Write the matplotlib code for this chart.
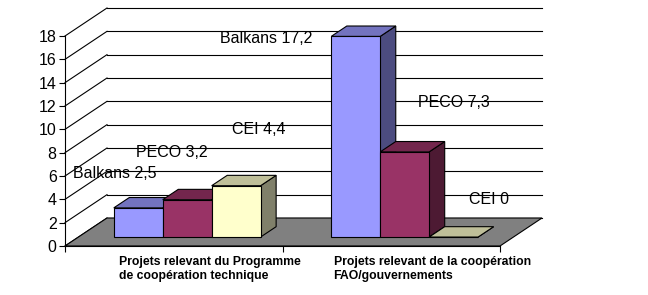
import matplotlib
matplotlib.use('Agg')
from matplotlib import pyplot as plt
from matplotlib.patches import Polygon

plt.rcParams['font.family'] = ['Liberation Sans', 'DejaVu Sans']

categories = ['Projets relevant du Programme\nde coopération technique',
              'Projets relevant de la coopération\nFAO/gouvernements']
series = ['Balkans', 'PECO', 'CEI']
balkans = [2.5, 17.2]
peco = [3.2, 7.3]
cei = [4.4, 0.0]
values = [balkans, peco, cei]

# front / top / side shades for each series
colors = [('#9999FF', '#7373BF', '#4C4C80'),
          ('#993366', '#73264D', '#4D1A33'),
          ('#FFFFCC', '#BFBF99', '#80806A')]

# label anchor positions (x in category units, y in value units)
label_pos = [[(0.037, 6.2), (0.713, 17.8)],
             [(0.326, 8.0), (1.623, 12.3)],
             [(0.768, 9.95), (1.857, 3.95)]]

fig = plt.figure(figsize=(6.48, 2.95), dpi=100)
ax = fig.add_axes([65 / 648, 49 / 295, 435 / 648, 210 / 295])
ax.set_xlim(0, 2)
ax.set_ylim(0, 18)

# depth offsets (full depth) in data units
DX = 42 / 217.5
DY = 28 / (210 / 18)
LW = 0.8


def proj(x, y, d):
    return (x + d * DX, y + d * DY)


# walls
yt = list(range(0, 20, 2))
for v in yt:
    ax.plot([proj(0, v, 0)[0], proj(0, v, 1)[0]], [proj(0, v, 0)[1], proj(0, v, 1)[1]],
            color='black', lw=LW, clip_on=False, zorder=1)
    ax.plot([proj(0, v, 1)[0], proj(2, v, 1)[0]], [proj(0, v, 1)[1], proj(2, v, 1)[1]],
            color='black', lw=LW, clip_on=False, zorder=1)

# floor
floor = [proj(0, 0, 0), proj(2, 0, 0), proj(2, 0, 1), proj(0, 0, 1)]
ax.add_patch(Polygon(floor, closed=True, facecolor='#808080', edgecolor='black',
                     lw=LW, clip_on=False, zorder=2))

# bars
bw = 0.225
df, db = 0.32, 0.69
z = 3
for i in range(len(categories)):
    for s in range(len(series)):
        h = values[s][i]
        x0 = i + 0.5 + (s - 1.5) * bw
        x1 = x0 + bw
        front = [proj(x0, 0, df), proj(x1, 0, df), proj(x1, h, df), proj(x0, h, df)]
        top = [proj(x0, h, df), proj(x1, h, df), proj(x1, h, db), proj(x0, h, db)]
        side = [proj(x1, 0, df), proj(x1, 0, db), proj(x1, h, db), proj(x1, h, df)]
        fc, tc, sc = colors[s]
        for pts, c in [(side, sc), (front, fc), (top, tc)]:
            ax.add_patch(Polygon(pts, closed=True, facecolor=c, edgecolor='black',
                                 lw=LW, joinstyle='miter', clip_on=False, zorder=z))
        z += 1

# data labels
for s in range(len(series)):
    for i in range(len(categories)):
        txt = '%s %s' % (series[s], ('%g' % values[s][i]).replace('.', ','))
        lx, ly = label_pos[s][i]
        ax.text(lx, ly, txt, ha='left', va='center', fontsize=11.5, zorder=20)

# category labels
for i, cat in enumerate(categories):
    ax.text(i + 0.247 - 0.012 * i, -0.85, cat, ha='left', va='top', fontsize=8.8,
            fontweight='bold', linespacing=1.25)

# axes
for sp in ['top', 'right']:
    ax.spines[sp].set_visible(False)
ax.spines['left'].set_linewidth(LW)
ax.spines['bottom'].set_linewidth(LW)
ax.spines['bottom'].set_zorder(30)
ax.set_yticks(yt)
ax.set_yticklabels([str(v) for v in yt], fontsize=11.5)
ax.set_xticks([0, 1, 2])
ax.set_xticklabels(['', '', ''])
ax.tick_params(axis='both', direction='out', length=4, width=LW, pad=2)
ax.patch.set_visible(False)

fig.savefig('out.png', dpi=100)
